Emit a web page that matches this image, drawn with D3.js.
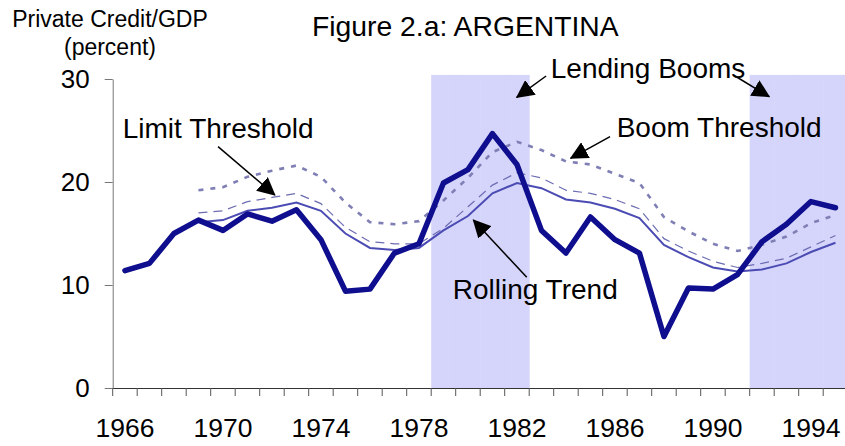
<!DOCTYPE html>
<html>
<head>
<meta charset="utf-8">
<script src="https://cdn.jsdelivr.net/npm/d3@7"></script>
<style>
  body { margin: 0; background: #fff; }
  text { font-family: "Liberation Sans", Arial, sans-serif; fill: #000; }
</style>
</head>
<body>
<script>
var width = 845,
    height = 446;

var margin = {top: 79, left: 112.7, bottom: 58};

// categories
var years = [1966, 1967, 1968, 1969, 1970, 1971, 1972, 1973, 1974, 1975,
             1976, 1977, 1978, 1979, 1980, 1981, 1982, 1983, 1984, 1985,
             1986, 1987, 1988, 1989, 1990, 1991, 1992, 1993, 1994, 1995]
var labelYears = [1966, 1970, 1974, 1978, 1982, 1986, 1990, 1994]
var yTicks = [0, 10, 20, 30]

// series (percent of GDP)
var credit = [11.4, 12.1, 15.0, 16.3, 15.3, 16.9, 16.2, 17.3, 14.4, 9.4,
              9.6, 13.1, 14.0, 19.9, 21.2, 24.7, 21.7, 15.3, 13.1, 16.6,
              14.4, 13.1, 5.0, 9.7, 9.6, 11.0, 14.2, 15.9, 18.1, 17.5]
// thresholds start in 1969
var trend = [null, null, null, 16.1, 16.3, 17.2, 17.5, 18.0, 17.2, 15.0,
             13.6, 13.4, 13.6, 15.3, 16.7, 18.9, 19.9, 19.4, 18.3, 18.0,
             17.4, 16.5, 13.9, 12.7, 11.7, 11.3, 11.5, 12.1, 13.2, 14.1]
var limit = [null, null, null, 17.0, 17.2, 18.1, 18.5, 18.9, 17.9, 15.6,
             14.2, 14.0, 14.0, 15.5, 17.6, 19.7, 20.9, 20.4, 19.2, 18.9,
             18.3, 17.4, 14.5, 13.3, 12.3, 11.7, 12.1, 12.6, 13.7, 14.8]
var boom = [null, null, null, 19.2, 19.5, 20.5, 21.1, 21.6, 20.5, 18.0,
            16.1, 15.9, 16.2, 18.2, 20.4, 22.9, 23.9, 23.1, 22.0, 21.7,
            20.8, 19.9, 16.6, 15.2, 14.0, 13.3, 13.9, 14.7, 16.0, 16.8]

// lending boom years (shaded) and shade height
var boomYears = [1979, 1980, 1981, 1982, 1992, 1993, 1994, 1995]
var shadeTop = 30.4

// annotations in data units (year position, value)
var notes = [
    {text: "Limit Threshold", x: 1966.41, y: 24.30},
    {text: "Lending Booms", x: 1983.88, y: 30.05},
    {text: "Boom Threshold", x: 1986.57, y: 24.34},
    {text: "Rolling Trend", x: 1979.88, y: 8.64}
]
var arrows = [
    {x1: 1970.30, y1: 23.43, x2: 1972.62, y2: 18.74},
    {x1: 1983.69, y1: 30.29, x2: 1982.49, y2: 28.22},
    {x1: 1991.40, y1: 30.29, x2: 1992.80, y2: 28.28},
    {x1: 1986.30, y1: 24.40, x2: 1984.69, y2: 22.30},
    {x1: 1982.90, y1: 10.75, x2: 1980.72, y2: 16.31}
]

var svg = d3.select("body").append("svg")
    .attr("width", width)
    .attr("height", height);

var plotRight = margin.left + years.length * 24.5;

var x = d3.scaleBand()
    .domain(years)
    .range([margin.left, plotRight])
    .padding(0);

// continuous year scale for annotation placement (left edge of 1966 = 1966)
var xl = d3.scaleLinear()
    .domain([1966, 1966 + years.length])
    .range([margin.left, plotRight]);

var y = d3.scaleLinear()
    .domain([0, 30])
    .range([height - margin.bottom, margin.top]);

// shaded lending booms
svg.selectAll(".shade")
    .data(boomYears)
    .enter().append("rect")
    .attr("class", "shade")
    .attr("x", function(d) { return x(d) })
    .attr("width", x.bandwidth() + 0.5)
    .attr("y", y(shadeTop))
    .attr("height", y(0) - y(shadeTop))
    .attr("fill", "#d5d5fb");

// axes
var axisY = d3.axisLeft(y)
    .tickValues(yTicks)
    .tickSize(8)
    .tickSizeOuter(0)
    .tickPadding(15);

var gy = svg.append("g")
    .attr("transform", "translate(" + margin.left + ",0)")
    .call(axisY);
gy.select(".domain").attr("stroke", "#777");
gy.selectAll(".tick line").attr("stroke", "#777");
gy.selectAll(".tick text")
    .style("font-size", "26px")
    .attr("fill", "#000");

var axisX = d3.axisBottom(x)
    .tickValues(labelYears)
    .tickSize(0)
    .tickSizeOuter(0)
    .tickPadding(30);

var gx = svg.append("g")
    .attr("transform", "translate(0," + y(0) + ")")
    .call(axisX);
gx.select(".domain").attr("stroke", "#333");
gx.selectAll(".tick text")
    .style("font-size", "26.5px")
    .attr("fill", "#000");

// category boundary ticks
gx.selectAll(".bound")
    .data(years)
    .enter().append("line")
    .attr("class", "bound")
    .attr("x1", function(d) { return x(d) })
    .attr("x2", function(d) { return x(d) })
    .attr("y1", 0)
    .attr("y2", 8)
    .attr("stroke", "#555");

// lines
function lineFor(values) {
    return d3.line()
        .defined(function(d, i) { return values[i] != null })
        .x(function(d) { return x(d) + x.bandwidth() / 2 })
        .y(function(d, i) { return y(values[i]) })(years);
}

svg.append("path")
    .attr("d", lineFor(boom))
    .attr("fill", "none")
    .attr("stroke", "#7f7fb5")
    .attr("stroke-width", 2.6)
    .attr("stroke-dasharray", "5,7");

svg.append("path")
    .attr("d", lineFor(limit))
    .attr("fill", "none")
    .attr("stroke", "#6c6cb2")
    .attr("stroke-width", 1.2)
    .attr("stroke-dasharray", "9,6");

svg.append("path")
    .attr("d", lineFor(trend))
    .attr("fill", "none")
    .attr("stroke", "#4b4bb4")
    .attr("stroke-width", 2);

svg.append("path")
    .attr("d", lineFor(credit))
    .attr("fill", "none")
    .attr("stroke", "#0e0e8e")
    .attr("stroke-width", 5.5)
    .attr("stroke-linejoin", "round")
    .attr("stroke-linecap", "round");

// arrow marker
svg.append("defs").append("marker")
    .attr("id", "head")
    .attr("markerUnits", "userSpaceOnUse")
    .attr("viewBox", "0 0 18 18")
    .attr("markerWidth", 18)
    .attr("markerHeight", 18)
    .attr("refX", 17)
    .attr("refY", 9)
    .attr("orient", "auto")
    .append("path")
    .attr("d", "M0,0 L18,9 L0,18 Z")
    .attr("fill", "#000");

svg.selectAll(".arrow")
    .data(arrows)
    .enter().append("line")
    .attr("class", "arrow")
    .attr("x1", function(d) { return xl(d.x1) })
    .attr("y1", function(d) { return y(d.y1) })
    .attr("x2", function(d) { return xl(d.x2) })
    .attr("y2", function(d) { return y(d.y2) })
    .attr("stroke", "#000")
    .attr("stroke-width", 1.5)
    .attr("marker-end", "url(#head)");

svg.selectAll(".note")
    .data(notes)
    .enter().append("text")
    .attr("class", "note")
    .attr("x", function(d) { return xl(d.x) })
    .attr("y", function(d) { return y(d.y) })
    .style("font-size", "28px")
    .text(function(d) { return d.text });

// titles
svg.append("text")
    .attr("x", 312)
    .attr("y", 36)
    .style("font-size", "28.3px")
    .text("Figure 2.a: ARGENTINA");

svg.append("text")
    .attr("x", 110)
    .attr("y", 27)
    .attr("text-anchor", "middle")
    .style("font-size", "23px")
    .text("Private Credit/GDP");

svg.append("text")
    .attr("x", 110)
    .attr("y", 55)
    .attr("text-anchor", "middle")
    .style("font-size", "23px")
    .text("(percent)");
</script>
</body>
</html>
